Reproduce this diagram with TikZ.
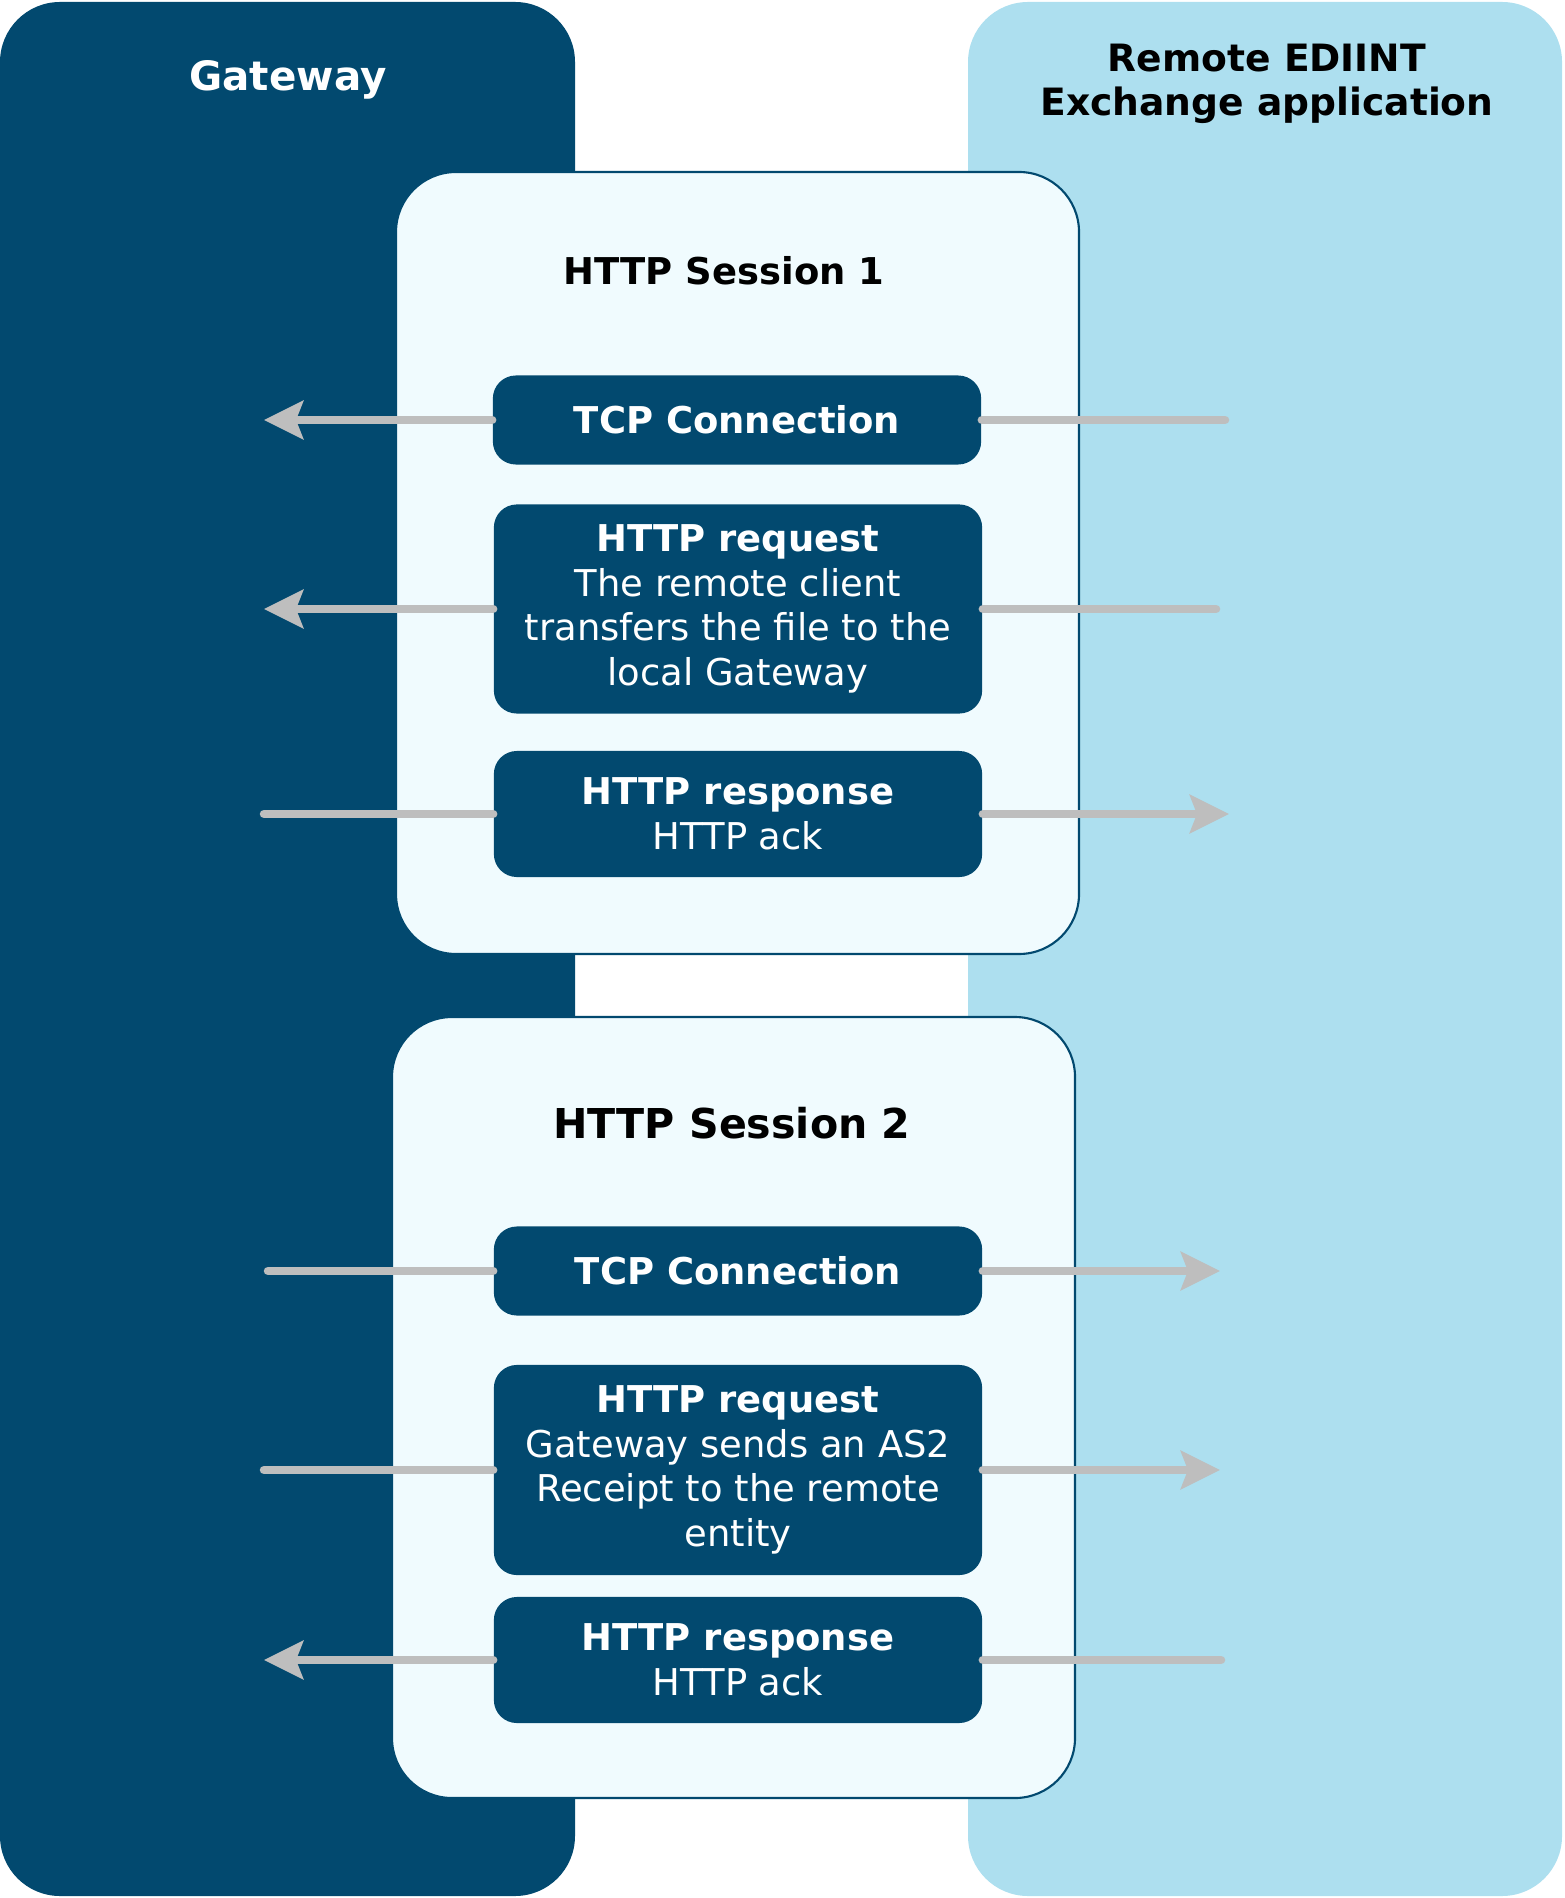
\documentclass[tikz,border=0pt]{standalone}
\usepackage{fontspec}
\setmainfont{DejaVu Sans}
\usepackage{xcolor}
\definecolor{gwblue}{RGB}{2,73,111}
\definecolor{remoteblue}{RGB}{173,223,239}
\definecolor{sessionfill}{RGB}{240,251,254}
\definecolor{msggray}{RGB}{190,190,190}
\usetikzlibrary{arrows.meta}
\tikzset{
	msgbox/.style={fill=gwblue, text=white, rounded corners=0.23cm, minimum width=4.88cm, inner sep=0pt, align=center, font=\fontsize{10.5}{12.7}\selectfont},
	sessionbox/.style={draw=gwblue, line width=0.6pt, fill=sessionfill, rounded corners=0.6cm},
	coltitle/.style={align=center, font=\fontsize{11.5}{12.7}\selectfont\bfseries},
	msgline/.style={msggray, line width=0.085cm, line cap=round},
	msgarrow/.style={msgline, -{Stealth[length=0.39cm, width=0.38cm, inset=0.07cm]}},
}

\begin{document}
\begin{tikzpicture}[x=0.01cm, y=-0.01cm]
	\useasboundingbox (0,0) rectangle (1564,1898);
	% the two parties
	\fill [gwblue, rounded corners=0.6cm] (0,2) rectangle (575,1896);
	\fill [remoteblue, rounded corners=0.6cm] (968,2) rectangle (1562,1896);
	\node [coltitle, text=white] (gwtitle) at (288,80) {Gateway};
	\node [coltitle, font=\fontsize{10.7}{12.7}\selectfont\bfseries] (retitle) at (1267,84) {Remote EDIINT\\Exchange application};
	% sessions
	\draw [sessionbox] (396,172) rectangle (1079,954);
	\draw [sessionbox] (392,1017) rectangle (1075,1798);
	\node [font=\fontsize{10.5}{12.7}\selectfont\bfseries] (s1title) at (724,271) {HTTP Session 1};
	\node [font=\fontsize{11.7}{14}\selectfont\bfseries] (s2title) at (732,1123) {HTTP Session 2};
	% ends of the messages
	\coordinate (gw1) at (264,420);
	\coordinate (re1) at (1225,420);
	\coordinate (gw2) at (264,609);
	\coordinate (re2) at (1216,609);
	\coordinate (gw3) at (264,814);
	\coordinate (re3) at (1229,814);
	\coordinate (gw4) at (268,1271);
	\coordinate (re4) at (1220,1271);
	\coordinate (gw5) at (264,1470);
	\coordinate (re5) at (1220,1470);
	\coordinate (gw6) at (264,1660);
	\coordinate (re6) at (1221,1660);
	% session 1
	\node [msgbox, minimum height=0.89cm] (tcp1) at (737,420) {\textbf{TCP Connection}};
	\node [msgbox, minimum height=2.09cm] (req1) at (738,609) {\textbf{HTTP request}\\The remote client\\transfers the file to the\\local Gateway};
	\node [msgbox, minimum height=1.26cm] (resp1) at (738,814) {\textbf{HTTP response}\\HTTP ack};
	% session 2
	\node [msgbox, minimum height=0.89cm] (tcp2) at (738,1271) {\textbf{TCP Connection}};
	\node [msgbox, minimum height=2.1cm] (req2) at (738,1470) {\textbf{HTTP request}\\Gateway sends an AS2\\Receipt to the remote\\entity};
	\node [msgbox, minimum height=1.26cm] (resp2) at (738,1660) {\textbf{HTTP response}\\HTTP ack};
	% messages
	\draw [msgarrow] (tcp1) -- (gw1);
	\draw [msgline] (tcp1) -- (re1);
	\draw [msgarrow] (req1) -- (gw2);
	\draw [msgline] (req1) -- (re2);
	\draw [msgline] (resp1) -- (gw3);
	\draw [msgarrow] (resp1) -- (re3);
	\draw [msgline] (tcp2) -- (gw4);
	\draw [msgarrow] (tcp2) -- (re4);
	\draw [msgline] (req2) -- (gw5);
	\draw [msgarrow] (req2) -- (re5);
	\draw [msgarrow] (resp2) -- (gw6);
	\draw [msgline] (resp2) -- (re6);
\end{tikzpicture}
\end{document}
